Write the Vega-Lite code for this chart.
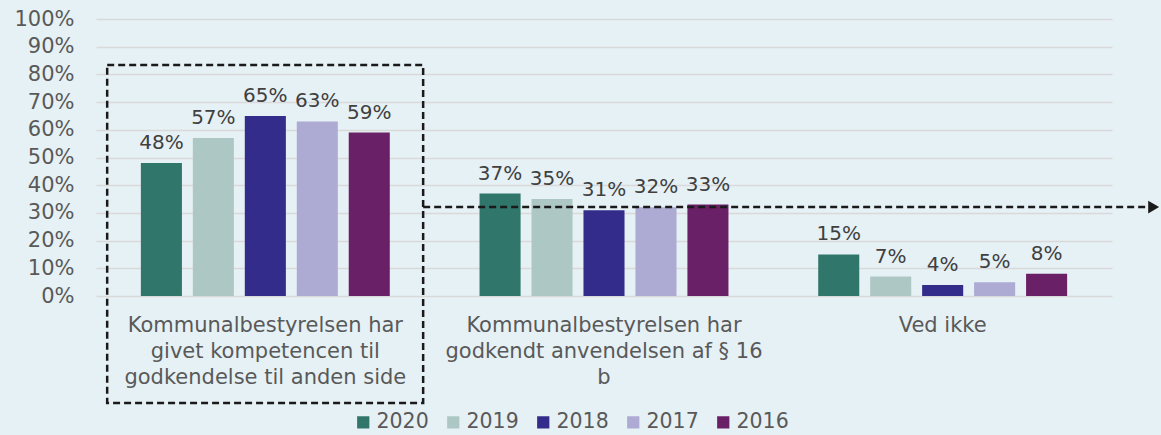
{
  "$schema": "https://vega.github.io/schema/vega-lite/v6.json",
  "autosize": "none",
  "width": 1016,
  "height": 277,
  "padding": {"left": 96, "top": 19, "right": 49, "bottom": 139},
  "background": "#e6f1f5",
  "config": {
    "view": {"stroke": null},
    "font": "DejaVu Sans",
    "text": {"font": "DejaVu Sans"}
  },
  "datasets": {
    "bars": [
      {"kategori": "Kommunalbestyrelsen har givet kompetencen til godkendelse til anden side", "aar": "2020", "andel": 0.48},
      {"kategori": "Kommunalbestyrelsen har givet kompetencen til godkendelse til anden side", "aar": "2019", "andel": 0.57},
      {"kategori": "Kommunalbestyrelsen har givet kompetencen til godkendelse til anden side", "aar": "2018", "andel": 0.65},
      {"kategori": "Kommunalbestyrelsen har givet kompetencen til godkendelse til anden side", "aar": "2017", "andel": 0.63},
      {"kategori": "Kommunalbestyrelsen har givet kompetencen til godkendelse til anden side", "aar": "2016", "andel": 0.59},
      {"kategori": "Kommunalbestyrelsen har godkendt anvendelsen af § 16 b", "aar": "2020", "andel": 0.37},
      {"kategori": "Kommunalbestyrelsen har godkendt anvendelsen af § 16 b", "aar": "2019", "andel": 0.35},
      {"kategori": "Kommunalbestyrelsen har godkendt anvendelsen af § 16 b", "aar": "2018", "andel": 0.31},
      {"kategori": "Kommunalbestyrelsen har godkendt anvendelsen af § 16 b", "aar": "2017", "andel": 0.32},
      {"kategori": "Kommunalbestyrelsen har godkendt anvendelsen af § 16 b", "aar": "2016", "andel": 0.33},
      {"kategori": "Ved ikke", "aar": "2020", "andel": 0.15},
      {"kategori": "Ved ikke", "aar": "2019", "andel": 0.07},
      {"kategori": "Ved ikke", "aar": "2018", "andel": 0.04},
      {"kategori": "Ved ikke", "aar": "2017", "andel": 0.05},
      {"kategori": "Ved ikke", "aar": "2016", "andel": 0.08}
    ],
    "boks": [
      {"x": 0.011, "x2": 0.322, "andel": 0.834, "andel2": -0.386}
    ],
    "pil": [
      {"x": 0.322, "x2": 1.036, "andel": 0.321}
    ],
    "pilspids": [
      {"x": 1.041, "andel": 0.321}
    ]
  },
  "encoding": {
    "y": {
      "field": "andel", "type": "quantitative",
      "scale": {"domain": [0, 1], "nice": false},
      "axis": {
        "title": null, "format": ".0%", "values": [0, 0.1, 0.2, 0.3, 0.4, 0.5, 0.6, 0.7, 0.8, 0.9, 1],
        "labelOverlap": false,
        "domain": false, "ticks": false, "labelFontSize": 21, "labelColor": "#595959",
        "labelPadding": 22, "gridColor": "#d9d9d9", "gridWidth": 1.6
      }
    }
  },
  "layer": [
    {
      "data": {"name": "bars"},
      "encoding": {
        "x": {
          "field": "kategori", "type": "nominal", "sort": null,
          "scale": {"paddingInner": 0.265, "paddingOuter": 0.1325},
          "axis": {
            "title": null, "labelAngle": 0, "domain": false, "ticks": false,
            "labelFontSize": 21, "labelColor": "#595959", "labelLineHeight": 26,
            "labelPadding": 18, "labelLimit": 0, "labelBaseline": "top",
            "labelExpr": "datum.value == 'Ved ikke' ? 'Ved ikke' : (indexof(datum.value, 'givet') > 0 ? ['Kommunalbestyrelsen har', 'givet kompetencen til', 'godkendelse til anden side'] : ['Kommunalbestyrelsen har', 'godkendt anvendelsen af § 16', 'b'])"
          }
        },
        "xOffset": {
          "field": "aar", "type": "nominal",
          "sort": ["2020", "2019", "2018", "2017", "2016"],
          "scale": {"paddingInner": 0.21, "paddingOuter": 0}
        }
      },
      "layer": [
        {
          "mark": {"type": "bar"},
          "encoding": {
            "color": {
              "field": "aar", "type": "nominal",
              "sort": ["2020", "2019", "2018", "2017", "2016"],
              "scale": {"domain": ["2020", "2019", "2018", "2017", "2016"], "range": ["#30766a", "#adc8c4", "#342c8a", "#adabd3", "#6a2067"]},
              "legend": {
                "title": null, "orient": "none", "direction": "horizontal",
                "legendX": 257, "legendY": 393, "symbolType": "square", "symbolSize": 150,
                "labelFontSize": 20.5, "labelColor": "#595959", "columnPadding": 14, "labelOffset": 3,
                "symbolStrokeWidth": 0
              }
            }
          }
        },
        {
          "mark": {"type": "text", "baseline": "alphabetic", "dy": -14, "fontSize": 20, "color": "#404040"},
          "encoding": {
            "text": {"field": "andel", "type": "quantitative", "format": ".0%"}
          }
        }
      ]
    },
    {
      "data": {"name": "boks"},
      "mark": {"type": "rect", "fill": null, "fillOpacity": 0, "stroke": "#1a1a1a", "strokeWidth": 2.5, "strokeDash": [7, 4]},
      "encoding": {
        "x": {"field": "x", "type": "quantitative", "scale": {"domain": [0, 1]}, "axis": null},
        "x2": {"field": "x2"},
        "y2": {"field": "andel2"}
      }
    },
    {
      "data": {"name": "pil"},
      "mark": {"type": "rule", "stroke": "#1a1a1a", "strokeWidth": 2.5, "strokeDash": [7, 4]},
      "encoding": {
        "x": {"field": "x", "type": "quantitative", "scale": {"domain": [0, 1]}, "axis": null},
        "x2": {"field": "x2"}
      }
    },
    {
      "data": {"name": "pilspids"},
      "mark": {"type": "point", "shape": "triangle-right", "filled": true, "color": "#1a1a1a", "size": 160, "opacity": 1},
      "encoding": {
        "x": {"field": "x", "type": "quantitative", "scale": {"domain": [0, 1]}, "axis": null}
      }
    }
  ],
  "resolve": {"scale": {"x": "independent"}, "axis": {"x": "independent"}}
}
